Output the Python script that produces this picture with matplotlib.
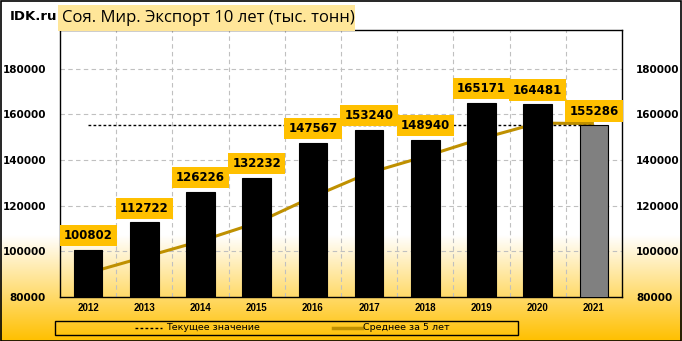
import matplotlib
matplotlib.use('Agg')
import matplotlib.pyplot as plt
import matplotlib.colors as colors
from matplotlib.patches import Rectangle
from matplotlib.lines import Line2D
import numpy as np

# data
years = ['2012', '2013', '2014', '2015', '2016', '2017', '2018', '2019', '2020', '2021']
export = [100802, 112722, 126226, 132232, 147567, 153240, 148940, 165171, 164481, 155286]
avg5 = [90500, 97500, 104500, 112500, 123910, 134397, 141641, 149430, 156200, 156000]
current = 155286
title = 'Соя. Мир. Экспорт 10 лет (тыс. тонн)'
legend_labels = ['Текущее значение', 'Среднее за 5 лет']


def main():
    W, H = 682, 341
    fig = plt.figure(figsize=(W / 100, H / 100), dpi=100)

    # background: white on top, fading to orange-yellow at the bottom
    bg = fig.add_axes([0, 0, 1, 1], zorder=-10)
    frac = np.linspace(1, 0, 341)
    t = np.clip((0.31 - frac) / 0.31, 0, 1)
    c0 = np.array([1, 1, 1])
    c1 = np.array(colors.to_rgb('#FFC000'))
    grad = (c0[None, :] * (1 - t[:, None]) + c1[None, :] * t[:, None])[:, None, :]
    bg.imshow(grad, aspect='auto', extent=[0, 1, 0, 1])
    bg.set_xlim(0, 1)
    bg.set_ylim(0, 1)
    bg.axis('off')

    ax = fig.add_axes([60 / W, 1 - 297 / H, 562 / W, 267 / H])
    ax.set_facecolor('none')

    x = np.arange(len(years))
    bar_colors = ['black'] * (len(years) - 1) + ['#808080']
    ax.bar(x, export, width=0.51, color=bar_colors, edgecolor='black', linewidth=0.8, zorder=3)

    ax.plot(x, avg5, color='#BF9000', linewidth=2.2, zorder=2, solid_capstyle='butt')
    ax.plot([x[0], x[-1]], [current, current], color='black', linestyle=(0, (2, 1.6)), linewidth=1, zorder=2)

    for xi, v in zip(x, export):
        ax.annotate(str(v), (xi, v), xytext=(0, 5.5), textcoords='offset points',
                    ha='center', va='bottom', fontsize=8.5, fontweight='bold', zorder=5,
                    bbox=dict(boxstyle='square,pad=0.35', facecolor='#FFC000', edgecolor='none'))

    ax.set_xlim(-0.5, len(years) - 0.5)
    ax.set_ylim(80000, 197000)
    ax.set_yticks(np.arange(80000, 190000, 20000))
    ax.set_yticklabels([str(v) for v in range(80000, 190000, 20000)])
    ax.set_xticks(x)
    ax.set_xticklabels(years)
    ax.set_xticks(np.arange(0.5, len(years) - 0.5, 1), minor=True)

    ax.tick_params(axis='y', length=0, pad=10, labelright=True, labelsize=7.5)
    ax.tick_params(axis='x', which='both', length=0, pad=4)
    for lab in ax.get_yticklabels():
        lab.set_fontweight('bold')
    for lab in ax.get_xticklabels():
        lab.set_fontweight('bold')
        lab.set_fontfamily('Liberation Sans')
        lab.set_fontsize(7)

    ax.grid(axis='y', which='major', color='#C0C0C0', linestyle=(0, (4, 3)), linewidth=0.8, zorder=0)
    ax.grid(axis='x', which='minor', color='#C0C0C0', linestyle=(0, (4, 3)), linewidth=0.8, zorder=0)
    ax.set_axisbelow(True)
    for s in ax.spines.values():
        s.set_linewidth(1)
        s.set_color('black')

    # title
    fig.patches.append(Rectangle((58 / W, 1 - 31 / H), 297 / W, 26 / H, transform=fig.transFigure,
                                 facecolor='#FFE699', edgecolor='none', zorder=1))
    fig.text(62 / W, 1 - 18 / H, title, fontsize=12, fontfamily='Open Sans', va='center', ha='left')
    fig.text(10 / W, 1 - 17 / H, 'IDK.ru', fontsize=9.5, fontweight='bold', va='center', ha='left')

    # legend, drawn by hand in figure pixels
    fig.patches.append(Rectangle((55 / W, 1 - 335 / H), 463 / W, 14 / H, transform=fig.transFigure,
                                 facecolor='none', edgecolor='black', linewidth=1, zorder=5))
    ly = 1 - 328 / H
    fig.lines.append(Line2D([135 / W, 162 / W], [ly, ly], transform=fig.transFigure,
                            color='black', linestyle=(0, (2, 1.6)), linewidth=1))
    fig.lines.append(Line2D([333 / W, 362 / W], [ly, ly], transform=fig.transFigure,
                            color='#BF9000', linewidth=2.5))
    fig.text(166 / W, ly, legend_labels[0], fontsize=6.8, va='center', ha='left')
    fig.text(363 / W, ly, legend_labels[1], fontsize=6.8, va='center', ha='left')

    # outer border
    fig.patches.append(Rectangle((0.5 / W, 0.5 / H), 1 - 1.5 / W, 1 - 1.5 / H, transform=fig.transFigure,
                                 facecolor='none', edgecolor='black', linewidth=1.2, zorder=10))

    fig.savefig('out.png', dpi=100)


if __name__ == '__main__':
    main()
